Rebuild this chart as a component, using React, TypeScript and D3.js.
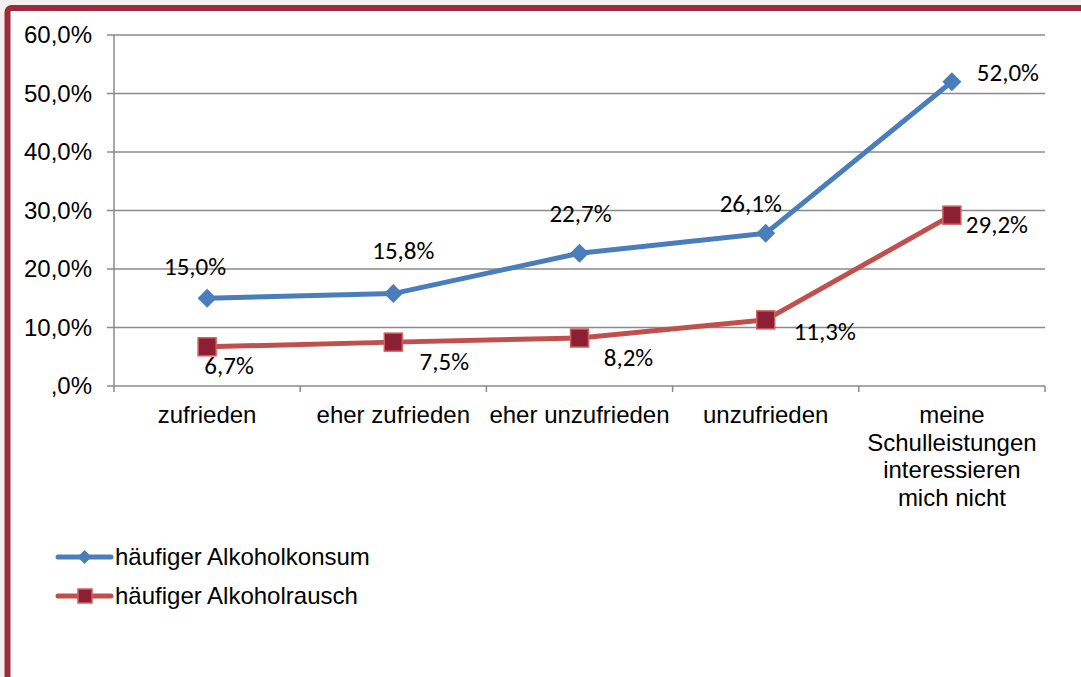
import React, { useEffect, useRef } from "react";
import * as d3 from "d3";

const categories = [
  "zufrieden",
  "eher zufrieden",
  "eher unzufrieden",
  "unzufrieden",
  "meine\nSchulleistungen\ninteressieren\nmich nicht",
];
const konsum = [15.0, 15.8, 22.7, 26.1, 52.0];
const rausch = [6.7, 7.5, 8.2, 11.3, 29.2];
const yTicks = [0, 10, 20, 30, 40, 50, 60];
const seriesNames = ["häufiger Alkoholkonsum", "häufiger Alkoholrausch"];

// label placement (dx, dy from the point), like the hand-moved Excel labels
const konsumLabelOffsets = [[-12, -23], [10, -35], [1, -31], [-15, -21], [56, -1]];
const rauschLabelOffsets = [[22, 27], [51, 28], [49, 28], [59, 20], [45, 18]];

const fmt = (v: number) => {
  const s = d3.format(".1f")(v).replace(".", ",");
  return (s.startsWith("0,") ? s.slice(1) : s) + "%";
};

const App = () => {
  const ref = useRef<SVGSVGElement>(null);

  useEffect(() => {
    const svg = d3.select(ref.current);
    svg.selectAll("*").remove();

    const width = 1081;
    const height = 677;
    const blue = "#4a7ebb";
    const red = "#c0504d";
    const arial = "'Liberation Sans', Arial, sans-serif";
    const calibri = "Carlito, Calibri, Lato, sans-serif";
    const fs = 24;

    // page + frame
    svg.append("rect").attr("width", width).attr("height", height).attr("fill", "#f0f0f0");
    svg.append("rect")
      .attr("x", 7.5).attr("y", 8)
      .attr("width", width + 20).attr("height", height + 20)
      .attr("rx", 4)
      .attr("fill", "#fff")
      .attr("stroke", "#9e2a3c")
      .attr("stroke-width", 6);

    const x = d3.scaleBand().domain(categories).range([114, 1045]);
    const y = d3.scaleLinear().domain([0, 60]).range([386, 35]);
    const cx = (i: number) => (x(categories[i]) as number) + x.bandwidth() / 2;

    // gridlines + y ticks
    yTicks.forEach(t => {
      svg.append("line")
        .attr("x1", 107).attr("x2", 1045)
        .attr("y1", y(t)).attr("y2", y(t))
        .attr("stroke", "#8a8a8a").attr("stroke-width", 1.5);
      svg.append("text")
        .attr("x", 92).attr("y", y(t))
        .attr("dy", "0.35em")
        .attr("text-anchor", "end")
        .attr("font-family", arial).attr("font-size", fs)
        .attr("fill", "#000")
        .text(fmt(t));
    });

    // axes
    svg.append("line")
      .attr("x1", 114).attr("x2", 114)
      .attr("y1", y(60)).attr("y2", y(0))
      .attr("stroke", "#8a8a8a").attr("stroke-width", 1.5);
    const xEdges = categories.map(c => x(c) as number).concat([1045]);
    xEdges.forEach(e => {
      svg.append("line")
        .attr("x1", e).attr("x2", e)
        .attr("y1", y(0)).attr("y2", y(0) + 6)
        .attr("stroke", "#8a8a8a").attr("stroke-width", 1.5);
    });

    // category labels
    categories.forEach((c, i) => {
      const t = svg.append("text")
        .attr("text-anchor", "middle")
        .attr("font-family", arial).attr("font-size", fs)
        .attr("fill", "#000");
      c.split("\n").forEach((line, j) => {
        t.append("tspan")
          .attr("x", cx(i))
          .attr("y", 423 + j * 27.5)
          .text(line);
      });
    });

    const line = d3.line<number>()
      .x((_, i) => cx(i))
      .y(d => y(d));

    // konsum series
    svg.append("path")
      .datum(konsum)
      .attr("d", line)
      .attr("fill", "none")
      .attr("stroke", blue)
      .attr("stroke-width", 5)
      .attr("stroke-linejoin", "round");
    const diamond = (px: number, py: number, r: number) =>
      `M${px},${py - r}L${px + r},${py}L${px},${py + r}L${px - r},${py}Z`;
    konsum.forEach((d, i) => {
      svg.append("path")
        .attr("d", diamond(cx(i), y(d), 9.5))
        .attr("fill", blue);
    });

    // rausch series
    svg.append("path")
      .datum(rausch)
      .attr("d", line)
      .attr("fill", "none")
      .attr("stroke", red)
      .attr("stroke-width", 5)
      .attr("stroke-linejoin", "round");
    rausch.forEach((d, i) => {
      svg.append("rect")
        .attr("x", cx(i) - 9).attr("y", y(d) - 9)
        .attr("width", 18).attr("height", 18)
        .attr("fill", "#8c1f34")
        .attr("stroke", "#d0605d")
        .attr("stroke-width", 1.5);
    });

    // data labels
    const labels = (vals: number[], offs: number[][]) => {
      vals.forEach((d, i) => {
        svg.append("text")
          .attr("x", cx(i) + offs[i][0])
          .attr("y", y(d) + offs[i][1])
          .attr("text-anchor", "middle")
          .attr("font-family", calibri).attr("font-size", 25)
          .attr("fill", "#000")
          .text(fmt(d));
      });
    };
    labels(konsum, konsumLabelOffsets);
    labels(rausch, rauschLabelOffsets);

    // legend
    const legendY = [557, 596];
    seriesNames.forEach((name, i) => {
      const ly = legendY[i];
      svg.append("line")
        .attr("x1", 58).attr("x2", 111)
        .attr("y1", ly).attr("y2", ly)
        .attr("stroke", i === 0 ? blue : red)
        .attr("stroke-width", 5)
        .attr("stroke-linecap", "round");
      if (i === 0) {
        svg.append("path").attr("d", diamond(84.5, ly, 7)).attr("fill", blue);
      } else {
        svg.append("rect")
          .attr("x", 78).attr("y", ly - 7)
          .attr("width", 14).attr("height", 14)
          .attr("fill", "#8c1f34")
          .attr("stroke", "#d0605d")
          .attr("stroke-width", 1.5);
      }
      svg.append("text")
        .attr("x", 115).attr("y", ly + 8)
        .attr("font-family", arial).attr("font-size", fs)
        .attr("fill", "#000")
        .text(name);
    });
  }, []);

  return (
    <svg
      ref={ref}
      width={1081}
      height={677}
      style={{ position: "absolute", left: 0, top: 0, display: "block" }}
    />
  );
};

export default App;
